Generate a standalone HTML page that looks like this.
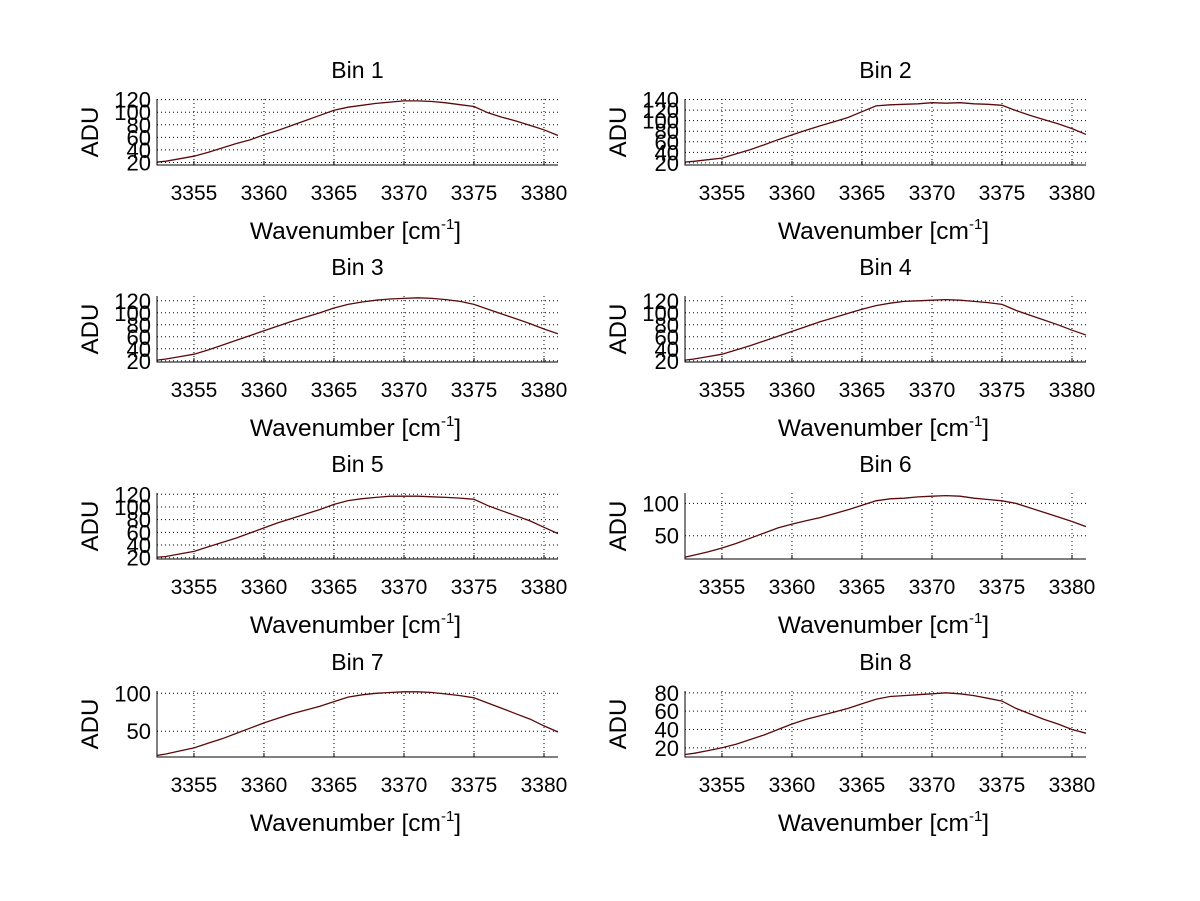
<!DOCTYPE html>
<html><head><meta charset="utf-8"><style>
html,body{margin:0;padding:0;background:#fff}
svg{display:block;font-family:"Liberation Sans",Arial,sans-serif}
</style></head><body>
<svg id="fig" width="1200" height="901" viewBox="0 0 1200 901"></svg>
<script>
const wavenumbers = [3352,3353,3354,3355,3356,3357,3358,3359,3360,3361,3362,3363,3364,3365,3366,3367,3368,3369,3370,3371,3372,3373,3374,3375,3376,3377,3378,3379,3380,3381];
const xTicks = [3355,3360,3365,3370,3375,3380];
const bin1 = [20,22,26,30,36,43,50,56,64,71,79,87,95,103,108,111,114,116,118,118,117,115,112,109,99,92,86,79,72,63];
const bin2 = [21,23,26,29,37,45,54,64,73,82,90,98,106,117,128,130,131,132,134,133,134,132,131,129,119,110,102,94,85,74];
const bin3 = [20,23,27,31,38,46,54,62,70,78,86,93,100,108,114,118,121,123,124,125,124,122,119,114,106,98,90,82,73,65];
const bin4 = [20,23,27,31,38,45,53,61,69,77,85,92,99,106,112,116,119,120,121,122,121,119,117,114,104,96,88,80,71,63];
const bin5 = [20,22,26,30,37,44,51,59,67,75,82,89,96,104,110,113,115,117,117,117,116,115,114,112,102,94,86,78,68,58];
const bin6 = [15,20,25,31,38,46,54,62,68,73,78,84,90,97,104,107,108,110,111,112,111,108,106,104,100,93,86,79,72,64];
const bin7 = [17,20,24,28,34,40,47,54,61,67,73,78,83,89,95,98,100,101,102,102,101,99,97,94,87,80,73,66,57,49];
const bin8 = [12,14,17,20,24,29,34,40,46,51,55,59,63,68,73,76,77,78,79,80,79,77,74,71,63,57,51,46,40,36];
const series = [bin1,bin2,bin3,bin4,bin5,bin6,bin7,bin8];
const binTitles = ["Bin 1","Bin 2","Bin 3","Bin 4","Bin 5","Bin 6","Bin 7","Bin 8"];
const yLims = [[16,121],[16,141],[18,128],[18,128],[18,122],[14,116],[16,103],[10,82]];
const yTickSets = [[20,40,60,80,100,120],[20,40,60,80,100,120,140],[20,40,60,80,100,120],[20,40,60,80,100,120],[20,40,60,80,100,120],[50,100],[50,100],[20,40,60,80]];
const xLim = [3352.36,3381.0];

const NS="http://www.w3.org/2000/svg";
const svg=document.getElementById('fig');
function mk(tag,attrs,parent){const e=document.createElementNS(NS,tag);for(const k in attrs)e.setAttribute(k,attrs[k]);(parent||svg).appendChild(e);return e;}
const colX=[157,685], rowY=[99,296,493,691], W=401, H=66;
series.forEach((data,i)=>{
  const c=i%2, r=Math.floor(i/2);
  const x0=colX[c], y0=rowY[r];
  const ylo=yLims[i][0], yhi=yLims[i][1];
  const sx=v=>x0+(v-xLim[0])/(xLim[1]-xLim[0])*W;
  const sy=v=>y0+H-(v-ylo)/(yhi-ylo)*H;
  const g=mk('g',{});
  
  
  const cp=mk('clipPath',{id:'cp'+i},g);
  mk('rect',{x:x0,y:y0,width:W,height:H},cp);
  xTicks.forEach(t=>{
    const l=mk('line',{x1:sx(t),x2:sx(t),y1:y0,y2:y0+H,stroke:'#000','stroke-width':1,'stroke-dasharray':'1,3'},g);
    
    
    const tk=mk('line',{x1:sx(t),x2:sx(t),y1:y0+H,y2:y0+H-4,stroke:'#000'},g);
    
    
    const tl=mk('text',{x:sx(t),y:y0+H+35,'text-anchor':'middle','font-size':21},g);
    tl.textContent=t;
    
    
  });
  yTickSets[i].forEach(t=>{
    const l=mk('line',{x1:x0,x2:x0+W,y1:sy(t),y2:sy(t),stroke:'#000','stroke-width':1,'stroke-dasharray':'1,3'},g);
    
    
    const tl=mk('text',{x:x0-6,y:sy(t)+8,'text-anchor':'end','font-size':22},g);
    tl.textContent=t;
    
    
  });
  const ax=mk('path',{d:`M${x0},${y0}V${y0+H}H${x0+W}`,fill:'none',stroke:'#000','stroke-width':1},g);
  
  
  const pts=data.map((v,k)=>sx(wavenumbers[k]).toFixed(1)+','+sy(v).toFixed(1)).join(' ');
  const pl=mk('polyline',{points:pts,fill:'none',stroke:'#5a0a0a','stroke-width':1.3,'clip-path':'url(#cp'+i+')'},g);
  
  
  const tt=mk('text',{x:x0+W/2,y:y0-21,'text-anchor':'middle','font-size':23},g);
  tt.textContent=binTitles[i];
  
  
  const xl=mk('text',{x:x0+W/2-2,y:y0+H+74,'text-anchor':'middle','font-size':24.5},g);
  xl.innerHTML='Wavenumber [cm<tspan dy="-10" font-size="15">-1</tspan><tspan dy="10">]</tspan>';
  
  
  const yl=mk('text',{x:0,y:0,'text-anchor':'middle','font-size':24,transform:`translate(${x0-59},${y0+H/2}) rotate(-90)`},g);
  yl.textContent='ADU';
  
  
});
</script>
</body></html>
